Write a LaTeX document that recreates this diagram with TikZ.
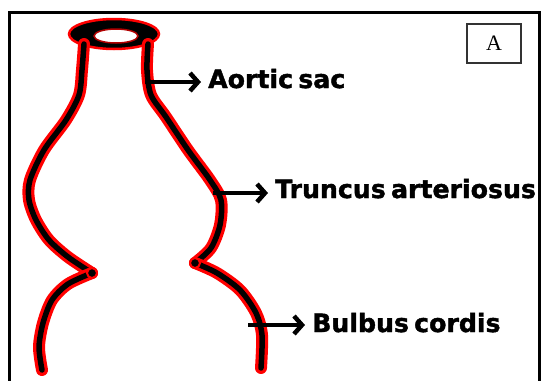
\documentclass[tikz,border=0pt]{standalone}
\usepackage{fontspec}
\usetikzlibrary{arrows.meta}
\newfontfamily\partfont[WordSpace=0.6, BoldFeatures={FakeBold=1.6}]{DejaVu Sans}
\newfontfamily\panelfont{Liberation Serif}

\begin{document}
\begin{tikzpicture}[x=1pt, y=-1pt,
    wall/.style={black, line width=5.5pt, line cap=round, line join=round,
        preaction={draw=red, line width=12pt, line cap=round, line join=round}},
    knob/.style={circle, fill=black, draw=red, line width=2pt, inner sep=0pt, minimum size=10pt},
    pointer/.style={black, line width=3.5pt, -{Straight Barb[length=8pt, width=18pt, line width=4.5pt]}},
    partname/.style={font=\partfont\bfseries\fontsize{25.2}{26}\selectfont, inner sep=0pt, inner xsep=7pt, anchor=base west}]
	\useasboundingbox (0,0) rectangle (542,381);
	\draw[line width=3pt] (9,381) -- (9,12) -- (539,12) -- (539,381); % frame, open at the bottom
	\node[draw=black!80, line width=1.3pt, minimum width=54pt, minimum height=39pt, inner sep=0pt,
	      font=\panelfont\fontsize{22}{22}\selectfont] (panel) at (494,43.5) {A};
%
	% rim on top of the sac
	\filldraw[fill=black, draw=red, line width=2.5pt] (114,34) ellipse [x radius=45pt, y radius=15pt];
	\filldraw[fill=white, draw=red!70!black, line width=1.5pt] (116,36) ellipse [x radius=22pt, y radius=7pt];
%
	\coordinate (lbend) at (92,273);
	\coordinate (rbend) at (195,263);
	\draw[wall] plot[smooth] coordinates {(84,44) (82,70) (79,95) (66,120) (44,150) (30,180) (29,200) (36,220) (49,240) (68,257) (lbend)};
	\draw[wall] plot[smooth] coordinates {(lbend) (68,284) (52,300) (43,323) (39,347) (42,370)};
	\draw[wall] plot[smooth] coordinates {(148,44) (147,70) (151,95) (166,117) (188,150) (210,180) (221,200) (220,225) (211,248) (rbend)};
	\draw[wall] plot[smooth] coordinates {(rbend) (217,273) (240,290) (256,313) (262,335) (261,368)};
	\node[knob] (lknob) at (lbend) {};
	\node[knob] (rknob) at (rbend) {};
%
	\coordinate (sac) at (145,82);
	\coordinate (truncus) at (213,193);
	\coordinate (bulbus) at (248,325);
	\node[partname] (aortic) at (201,88) {Aortic sac};
	\node[partname] (arteriosus) at (268,198) {Truncus arteriosus};
	\node[partname] (cordis) at (305,332) {Bulbus cordis};
	\draw[pointer] (sac) -- (sac -| aortic.west);
	\draw[pointer] (truncus) -- (truncus -| arteriosus.west);
	\draw[pointer] (bulbus) -- (bulbus -| cordis.west);
\end{tikzpicture}
\end{document}
